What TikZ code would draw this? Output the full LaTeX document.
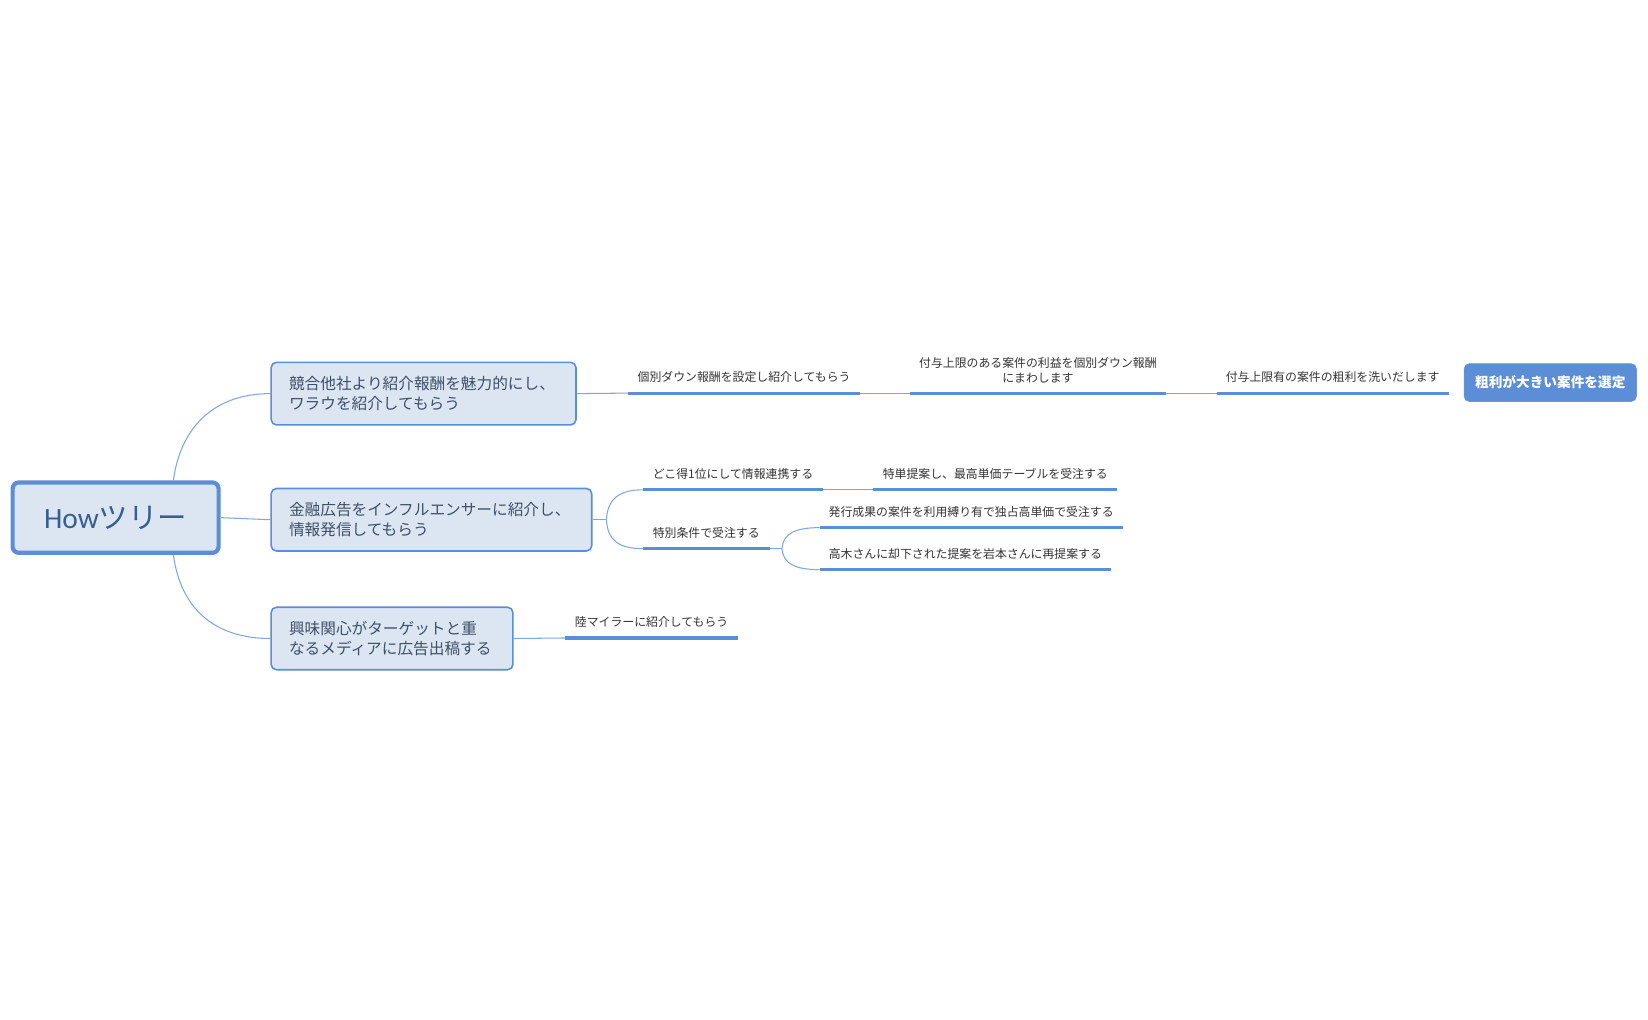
\documentclass[tikz,border=0pt]{standalone}
\usepackage{fontspec}
\setmainfont{Noto Sans CJK JP}
\newfontfamily\latinfont{Carlito}
\usetikzlibrary{calc}
\definecolor{lineblue}{HTML}{5B8ED6}
\definecolor{thinblue}{HTML}{7FA6DE}
\definecolor{boxfill}{HTML}{DCE6F2}
\definecolor{roottext}{HTML}{365F91}
\definecolor{topictext}{HTML}{3F4F66}
\definecolor{labeltext}{HTML}{333333}
\tikzset{
  x=1pt, y=-1pt,
  rootbox/.style={draw=lineblue, line width=4pt, fill=boxfill, rounded corners=6pt,
    minimum width=196pt, minimum height=67pt, text=roottext,
    font=\fontsize{28}{32}\selectfont},
  topic/.style={draw=lineblue, line width=1.5pt, fill=boxfill, rounded corners=5pt,
    align=left, inner xsep=17pt, inner ysep=0pt, minimum height=59.5pt, text=topictext,
    font=\fontsize{14.9}{19}\selectfont},
  lbl/.style={anchor=south, inner xsep=0pt, inner ysep=9.5pt, align=center,
    text=labeltext, font=\fontsize{11.3}{14}\selectfont},
  ul/.style={draw=lineblue, line width=3pt},
  conn/.style={draw=thinblue, line width=1pt},
  keybox/.style={fill=lineblue, draw=lineblue!90!white, line width=0.6pt, rounded corners=5pt,
    minimum width=164pt, minimum height=36pt, text=white,
    font=\fontsize{13}{16}\selectfont\bfseries}
}
\begin{document}
\begin{tikzpicture}
\useasboundingbox (0,0) rectangle (1568,970);

% root and topics
\node[rootbox] (root) at (110,492.5) {{\latinfont How}ツリー};
\node[topic, text width=256pt] (t1) at (403,374.5) {競合他社より紹介報酬を魅力的にし、\\ワラウを紹介してもらう};
\node[topic, text width=271pt] (t2) at (410.5,494.5) {金融広告をインフルエンサーに紹介し、\\情報発信してもらう};
\node[topic, text width=196pt] (t3) at (373,607.5) {興味関心がターゲットと重\\なるメディアに広告出稿する};

\draw[conn] ($(root.north east)+(-45,0)$) .. controls (172,405) and (205,374.5) .. (t1.west);
\draw[conn] (root.east) -- (t2.west);
\draw[conn] ($(root.south east)+(-45,0)$) .. controls (172,580) and (205,607.5) .. (t3.west);

% branch 1
\node[lbl, minimum width=220pt] (a1) at (708,374) {個別ダウン報酬を設定し紹介してもらう};
\node[lbl, minimum width=243pt] (a2) at (987.5,374) {付与上限のある案件の利益を個別ダウン報酬\\にまわします};
\node[lbl, minimum width=220pt] (a3) at (1268,374) {付与上限有の案件の粗利を洗いだします};
\node[keybox] (k1) at (1475,364) {粗利が大きい案件を選定};
\draw[conn] (t1.east) -- (a1.south west);
\draw[conn] (a1.south east) -- (a2.south west);
\draw[conn] (a2.south east) -- (a3.south west);
\foreach \n in {a1,a2,a3} \draw[ul] (\n.south west) -- (\n.south east);

% branch 2
\coordinate (f1) at (577,494.5);
\node[lbl, minimum width=171pt] (b1) at (697.5,466) {どこ得1位にして情報連携する};
\node[lbl, minimum width=232pt] (b2) at (947,466) {特単提案し、最高単価テーブルを受注する};
\node[lbl, minimum width=120pt] (b3) at (672,522) {特別条件で受注する};
\coordinate (f2) at (744,522);
\node[lbl, minimum width=288pt] (c1) at (924,502) {発行成果の案件を利用縛り有で独占高単価で受注する};
\node[lbl, minimum width=277pt] (c2) at (918.5,542) {高木さんに却下された提案を岩本さんに再提案する};
\draw[conn] (t2.east) -- (f1);
\draw[conn] (f1) .. controls (578,474) and (590,466) .. (b1.south west);
\draw[conn] (f1) .. controls (578,515) and (590,522) .. (b3.south west);
\draw[conn] (b1.south east) -- (b2.south west);
\draw[conn] (b3.south east) -- (f2);
\draw[conn] (f2) .. controls (745,508) and (756,502) .. (c1.south west);
\draw[conn] (f2) .. controls (745,536) and (756,542) .. (c2.south west);
\foreach \n in {b1,b2,b3,c1,c2} \draw[ul] (\n.south west) -- (\n.south east);

% branch 3
\node[lbl, minimum width=164pt] (d1) at (620,607) {陸マイラーに紹介してもらう};
\draw[conn] (t3.east) -- (d1.south west);
\draw[ul] (d1.south west) -- (d1.south east);
\end{tikzpicture}
\end{document}
